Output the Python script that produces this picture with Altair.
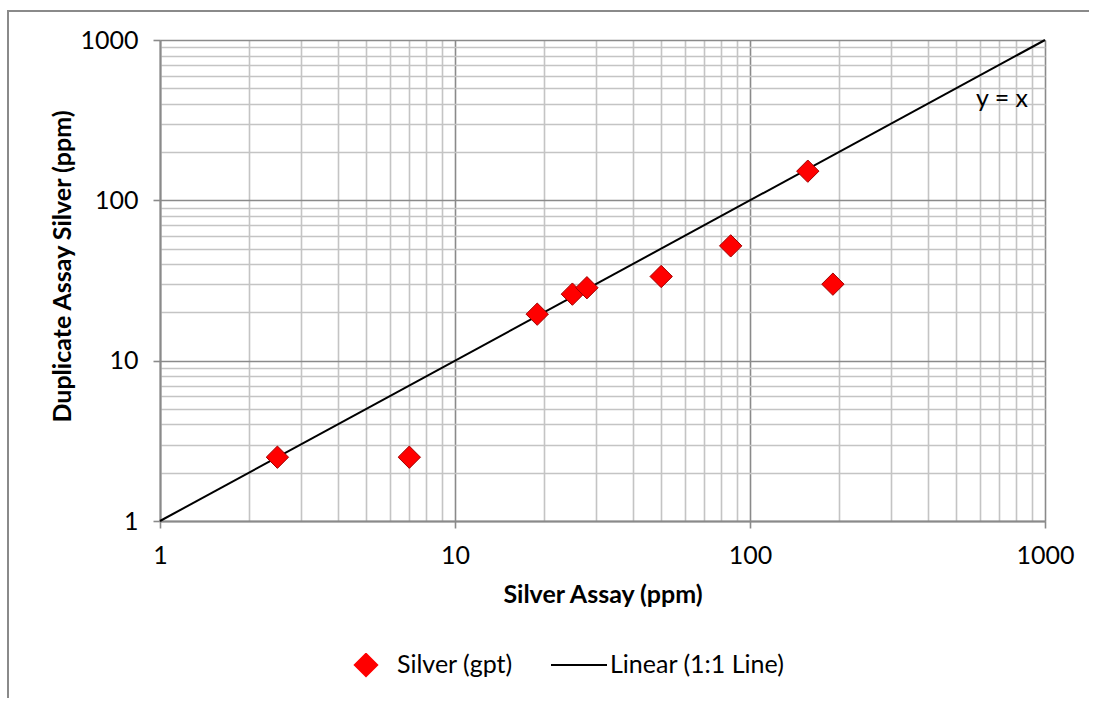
import altair as alt
import pandas as pd

# ---- data ----
silver_assay = [2.5, 7, 19, 25, 28, 50, 86, 191, 157]
duplicate_assay = [2.5, 2.5, 19.5, 26, 28.5, 33.5, 52, 30, 152]
line_x = [1, 1000]
line_y = [1, 1000]
series_names = ["Silver (gpt)", "Linear (1:1 Line)"]
grid_values = [1, 2, 3, 4, 5, 6, 7, 8, 9,
               10, 20, 30, 40, 50, 60, 70, 80, 90,
               100, 200, 300, 400, 500, 600, 700, 800, 900, 1000]
major_values = [1, 10, 100, 1000]
label_text = ["y = x"]
label_x = [715]
label_y = [430]

FONT = "Lato"
FS = 25
W, H = 885, 481
TOTAL_W, TOTAL_H = 1093, 698

pts = pd.DataFrame({"x": silver_assay, "y": duplicate_assay, "series": series_names[0]})
ln = pd.DataFrame({"x": line_x, "y": line_y, "series": series_names[1]})
lab = pd.DataFrame({"x": label_x, "y": label_y, "t": label_text})
frame = pd.DataFrame({"k": [0]})

major_test = "indexof([1,10,100,1000], datum.value) >= 0"

def make_axis(title, is_x):
    extra = {} if is_x else {"titleY": 226}
    return alt.Axis(
        title=title,
        values=grid_values,
        format="d",
        labelExpr=f"{major_test} ? datum.label : ''",
        grid=True,
        gridColor={"condition": {"test": major_test, "value": "#8a8a8a"}, "value": "#c4c4c4"},
        gridWidth=1.6,
        tickOpacity={"condition": {"test": major_test, "value": 1}, "value": 0},
        tickColor="#8a8a8a",
        tickSize=7,
        tickWidth=1.6,
        domainColor="#8a8a8a",
        domainWidth=2,
        labelFont=FONT,
        labelFontSize=FS,
        labelColor="#000000",
        labelPadding=15,
        labelFlush=False,
        labelOverlap=False,
        labelBound=False,
        titleFont=FONT,
        titleFontSize=FS,
        titleFontWeight="bold",
        titleColor="#000000",
        titlePadding=14 if is_x else 4,
        **extra,
    )

xscale = alt.Scale(type="log", domain=[1, 1000], nice=False)
yscale = alt.Scale(type="log", domain=[1, 1000], nice=False)

color_scale = alt.Scale(domain=series_names, range=["#ff0000", "#000000"])
shape_scale = alt.Scale(domain=series_names, range=["diamond", "stroke"])
size_scale = alt.Scale(domain=series_names, range=[500, 3136])

legend = alt.Legend(
    title=None,
    orient="none",
    legendX=177,
    legendY=613,
    direction="horizontal",
    columns=2,
    clipHeight=24,
    labelFont=FONT,
    labelFontSize=FS,
    labelColor="#000000",
    labelOffset=2,
    labelLimit=600,
    columnPadding=37,
    symbolOpacity=1,
    symbolStrokeWidth=2,
)

points = alt.Chart(pts).mark_point(filled=True, opacity=1, stroke="#a00000", strokeWidth=1).encode(
    x=alt.X("x:Q", scale=xscale, axis=make_axis("Silver Assay (ppm)", True)),
    y=alt.Y("y:Q", scale=yscale, axis=make_axis("Duplicate Assay Silver (ppm)", False)),
    color=alt.Color("series:N", scale=color_scale, legend=legend),
    shape=alt.Shape("series:N", scale=shape_scale, legend=legend),
    size=alt.Size("series:N", scale=size_scale, legend=legend),
)

line = alt.Chart(ln).mark_line(strokeWidth=2).encode(
    x="x:Q",
    y="y:Q",
    color=alt.Color("series:N", scale=color_scale, legend=legend),
)

text = alt.Chart(lab).mark_text(font=FONT, fontSize=FS, color="#000000", align="center", baseline="middle").encode(
    x="x:Q", y="y:Q", text="t:N"
)

# chart-area frame (left and top edges only, as in the reference)
frame_v = alt.Chart(frame).mark_rule(color="#8a8a8a", strokeWidth=2).encode(
    x=alt.value(-152), y=alt.value(-30), y2=alt.value(TOTAL_H - 40)
)
frame_h = alt.Chart(frame).mark_rule(color="#8a8a8a", strokeWidth=2).encode(
    x=alt.value(-153), x2=alt.value(TOTAL_W - 160 - 4), y=alt.value(-29)
)

chart = alt.layer(line, points, text, frame_v, frame_h).properties(
    width=W,
    height=H,
    autosize=alt.AutoSizeParams(type="none"),
    padding={"left": 160, "top": 40, "right": TOTAL_W - 160 - W, "bottom": TOTAL_H - 40 - H},
    background="white",
).configure_view(strokeWidth=0)

chart.save("out.html", embed_options={"renderer": "svg", "actions": False})
